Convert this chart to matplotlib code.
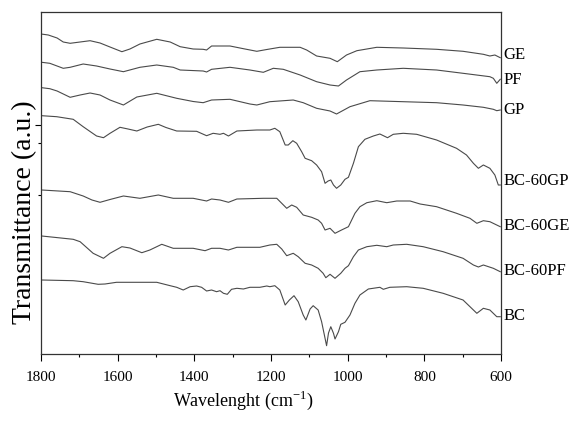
import matplotlib
matplotlib.use("Agg")
import matplotlib.pyplot as plt
from matplotlib.ticker import MultipleLocator, NullFormatter

plt.rcParams['font.family'] = ['Liberation Serif', 'DejaVu Serif']
plt.rcParams['mathtext.fontset'] = 'custom'
plt.rcParams['mathtext.rm'] = 'Liberation Serif'

# ---- data (wavenumber cm^-1, transmittance a.u., offset for display) ----
labels = ["GE", "PF", "GP", "BC-60GP", "BC-60GE", "BC-60PF", "BC"]

ge_w = [1800, 1781, 1758, 1742, 1724, 1698, 1672, 1646, 1620, 1589, 1568, 1542, 1498, 1463,
        1437, 1403, 1377, 1368, 1355, 1307, 1268, 1237, 1211, 1177, 1124, 1107, 1081, 1046,
        1027, 1003, 976, 924, 855, 768, 699, 646, 629, 616, 602]
ge_t = [320, 319, 316, 312, 310.7, 312, 313.3, 311, 307, 302.3, 305, 310, 314.7, 312,
        307.3, 305, 304.7, 304, 308, 308, 305, 302.7, 304.5, 306.7, 306.7, 304, 298, 295.7,
        292.3, 299, 303.3, 306.7, 306, 304.7, 302.7, 299.7, 298, 299, 296.3]

pf_w = [1798, 1777, 1742, 1724, 1690, 1655, 1620, 1585, 1542, 1498, 1455, 1437, 1377, 1368,
        1355, 1307, 1255, 1220, 1194, 1168, 1124, 1081, 1046, 1024, 1003, 968, 924, 855,
        768, 699, 629, 620, 611, 602]
pf_t = [291.7, 290.7, 285.7, 286.7, 290, 288, 285, 282.3, 286.7, 289, 286.7, 284, 283, 282,
        284.7, 286.7, 284, 281.7, 285.7, 284.7, 279, 272.3, 269, 268, 274, 282.3, 284, 285.7,
        284, 280.7, 277.3, 275.7, 270.7, 274.7]

gp_w = [1798, 1777, 1758, 1724, 1698, 1672, 1646, 1620, 1585, 1550, 1498, 1446, 1403, 1377,
        1355, 1307, 1255, 1237, 1203, 1142, 1116, 1081, 1046, 1029, 994, 942, 855, 768,
        699, 646, 620, 611, 602]
gp_t = [266.3, 265.3, 263, 256.7, 259, 261, 259, 254, 249, 257, 260.7, 255.7, 252.5, 251.3,
        254, 254.7, 250, 249, 252.3, 254, 251.3, 245.7, 243, 240, 247.3, 253.3, 252.3, 251.3,
        249, 246.7, 244.7, 243.3, 244]

bcgp_w = [1798, 1759, 1716, 1690, 1672, 1655, 1637, 1620, 1594, 1573, 1550, 1523, 1494, 1474,
          1446, 1394, 1368, 1351, 1333, 1324, 1311, 1289, 1237, 1203, 1190, 1177, 1163, 1155,
          1143, 1133, 1120, 1111, 1094, 1081, 1068, 1059, 1051, 1044, 1037, 1029, 1018, 1007,
          998, 985, 972, 955, 933, 916, 896, 881, 855, 820, 768, 716, 690, 672, 659, 646,
          629, 616, 607, 602]
bcgp_t = [238.3, 237.3, 234.7, 227.3, 222.5, 218, 216.3, 220.7, 226.7, 225, 223, 227, 229.7, 226.5,
          223, 222.7, 218.3, 220.7, 219.7, 220.7, 218, 223, 224, 224, 225.7, 222.3, 209, 209,
          213.3, 210.7, 202.3, 195.7, 193.3, 189, 182.3, 170.7, 173, 174, 169, 165.7, 169, 174.7,
          176.7, 190.7, 207.3, 214.7, 218, 220, 216.3, 219.7, 220.7, 219.7, 214, 205.7, 199, 190.7, 185.7, 189,
          185.7, 179, 169, 169]

bcge_w = [1798, 1724, 1690, 1667, 1646, 1620, 1585, 1542, 1494, 1455, 1403, 1368, 1355, 1333,
          1311, 1289, 1220, 1185, 1172, 1159, 1146, 1133, 1116, 1094, 1077, 1068, 1059, 1046,
          1033, 1016, 998, 981, 968, 950, 924, 898, 872, 837, 811, 768, 716, 681, 663, 646,
          629, 602]
bcge_t = [164, 162.3, 158, 154, 151.7, 154.5, 158, 155.7, 159, 155.7, 155.7, 153, 155, 154,
          151.7, 155, 155.7, 155.7, 150.7, 145.7, 149, 146.7, 139, 136.7, 134, 130.7, 124, 125.7,
          120.7, 124, 127.3, 140.7, 147.3, 151.3, 153.3, 151.3, 153, 153, 150, 147.3, 140.7, 135.7, 130.7, 133.3,
          132.3, 127.3]

bcpf_w = [1798, 1716, 1698, 1664, 1637, 1620, 1589, 1568, 1537, 1516, 1485, 1455, 1403, 1372,
          1355, 1333, 1311, 1289, 1229, 1203, 1185, 1172, 1159, 1142, 1129, 1111, 1094, 1077,
          1064, 1057, 1046, 1033, 1018, 1007, 998, 985, 972, 950, 924, 898, 881, 846, 803,
          751, 699, 672, 659, 646, 620, 602]
bcpf_t = [118, 114.7, 112.3, 100.7, 95.7, 100.7, 107.3, 106, 101.3, 104, 109.7, 105.7, 105.7, 103.3,
          105.7, 105.7, 104, 106.7, 106.7, 109, 109.7, 105, 98.3, 100.7, 97.3, 90.7, 89, 85.7,
          80.7, 76.3, 79.7, 75.7, 80.7, 85.7, 88.3, 97.3, 104, 107.3, 108.7, 107.3, 109, 109.7, 107.3,
          102.3, 95.7, 89, 87, 89, 85.7, 82.3]

bc_w = [1798, 1716, 1690, 1651, 1633, 1603, 1498, 1463, 1446, 1429, 1411, 1394, 1381, 1368,
        1355, 1342, 1333, 1324, 1314, 1303, 1289, 1272, 1255, 1229, 1211, 1203, 1190, 1177,
        1163, 1152, 1140, 1129, 1116, 1109, 1098, 1090, 1077, 1068, 1059, 1055, 1050, 1044,
        1037, 1033, 1024, 1018, 1007, 994, 981, 968, 946, 916, 907, 890, 846, 803, 751,
        699, 672, 663, 646, 629, 611, 602]
bc_t = [74, 73.3, 72.3, 69.7, 70, 71.7, 71.7, 68.3, 66.7, 64, 67.3, 68, 66.7, 63,
        64, 62.3, 63.3, 60.7, 59.7, 64.7, 65.7, 65, 66.7, 66.7, 68, 67.3, 68.3, 64,
        49, 54, 58.3, 52.3, 39, 34, 45, 48.3, 44, 32.3, 15.7, 8.3, 21, 27.3,
        20.7, 15, 22.3, 29.7, 31.7, 39, 50.7, 59, 65, 66.7, 64.7, 66.7, 67.3, 65.7, 60.7,
        54, 44, 40.7, 45.7, 44, 37.3, 37.3]

series_w = [ge_w, pf_w, gp_w, bcgp_w, bcge_w, bcpf_w, bc_w]
series_t = [ge_t, pf_t, gp_t, bcgp_t, bcge_t, bcpf_t, bc_t]
label_t = [299, 274, 244, 173, 128, 83, 38]

xticks = [1800, 1600, 1400, 1200, 1000, 800, 600]

# ---- figure ----
fig = plt.figure(figsize=(5.83, 4.22), dpi=100)
ax = fig.add_axes([41 / 583, 1 - 354 / 422, 460 / 583, 342 / 422])

for w, t in zip(series_w, series_t):
    ax.plot(w, t, color='#4a4a4a', lw=0.8)

ax.set_xlim(1800, 600)
ax.set_ylim(0, 342)

for lab, y in zip(labels, label_t):
    ax.annotate(lab, xy=(1.0, y), xycoords=('axes fraction', 'data'),
                xytext=(2, 0), textcoords='offset points',
                ha='left', va='center', fontsize=12, color='black')

ax.set_xticks(xticks)
ax.set_xticklabels([str(v) for v in xticks], fontsize=11)
ax.xaxis.set_minor_locator(MultipleLocator(100))
ax.tick_params(axis='x', which='major', direction='out', length=5, width=0.8, pad=7)
ax.tick_params(axis='x', which='minor', direction='out', length=2.5, width=0.8)

ax.set_yticks([229])
ax.set_yticks([211, 159], minor=True)
ax.yaxis.set_major_formatter(NullFormatter())
ax.tick_params(axis='y', which='major', direction='out', length=4, width=0.8)
ax.tick_params(axis='y', which='minor', direction='out', length=2.5, width=0.8)

for s in ax.spines.values():
    s.set_linewidth(0.9)
    s.set_color('#333333')

fig.text(243 / 583, 1 - 400 / 422, 'Wavelenght (cm$^{-1}$)', ha='center', va='center', fontsize=13)
fig.text(25 / 583, 1 - 212 / 422, 'Transmittance (a.u.)', ha='center', va='center',
         rotation=90, fontsize=20)

fig.savefig('out.png', dpi=100)
